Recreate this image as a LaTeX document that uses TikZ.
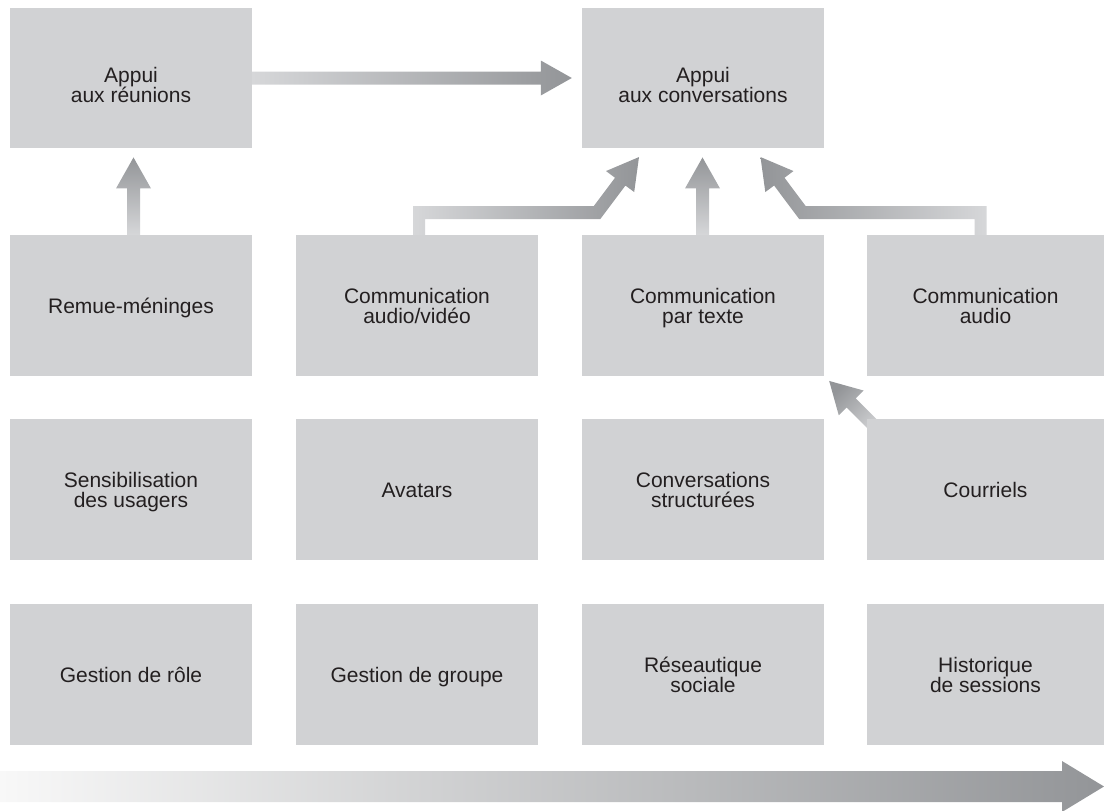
\documentclass[tikz,border=0pt]{standalone}
\usepackage{fontspec}
\setmainfont{Liberation Sans}
\usetikzlibrary{calc,backgrounds}

\definecolor{boxgray}{HTML}{D1D2D4}
\definecolor{arrowdark}{HTML}{939598}
\definecolor{arrowlight}{HTML}{D6D7D9}
\definecolor{axisstart}{HTML}{F8F8F8}
\definecolor{axismid}{HTML}{BDBEC0}
\definecolor{txt}{HTML}{231F20}

% struts that fix where the lines of a card sit
\newcommand\topline{\rule{0pt}{21pt}}
\newcommand\topliner{\rule{0pt}{34pt}}
\newcommand\botline{\rule[-6pt]{0pt}{6pt}}

% upward arrow: #1 = tail, #2 = tip (same x)
\newcommand\riseArrow[2]{%
  \shade[risegrad] ($(#1)+(-6.5,0)$) -- ($(#2)+(-6.5,31)$) -- ($(#2)+(-17.5,31)$)
    -- (#2) -- ($(#2)+(17.5,31)$) -- ($(#2)+(6.5,31)$) -- ($(#1)+(6.5,0)$) -- cycle;}

% bent arrow: up, across, then up at an angle; #1 = tail, #2 = extra options
\newcommand\bentArrow[2]{%
  \shade[shift={(#1)},#2] (-6,0) -- (-6,-29) -- (174.8,-29) -- (196,-57.3)
    -- (187,-64) -- (220,-78) -- (215.2,-43) -- (206.4,-49.5) -- (181.3,-16)
    -- (6,-16) -- (6,0) -- cycle;}

\begin{document}
\begin{tikzpicture}[x=1pt,y=-1pt,
  card/.style={fill=boxgray, minimum width=242pt, minimum height=140.5pt,
    inner sep=0pt, align=center, text=txt,
    font=\fontsize{21}{20}\selectfont},
  lastcol/.style={minimum width=237pt},
  risegrad/.style={top color=arrowdark, bottom color=arrowlight},
  rightgrad/.style={left color=arrowlight, right color=arrowdark},
  leftgrad/.style={left color=arrowdark, right color=arrowlight}]
\useasboundingbox (0,0) rectangle (1104,811);

% row 1
\node[card] (r1c1) at (131,78) {\topliner Appui\\aux réunions\botline};
\node[card] (r1c3) at (703,78) {\topliner Appui\\aux conversations\botline};
% row 2
\node[card] (r2c1) at (131,305.5) {\topline Remue-méninges\botline};
\node[card] (r2c2) at (417,305.5) {\topline Communication\\audio/vidéo\botline};
\node[card] (r2c3) at (703,305.5) {\topline Communication\\par texte\botline};
\node[card,lastcol] (r2c4) at (985.5,305.5) {\topline Communication\\audio\botline};
% row 3
\node[card] (r3c1) at (131,489.5) {\topline Sensibilisation\\des usagers\botline};
\node[card] (r3c2) at (417,489.5) {\topline Avatars\botline};
\node[card] (r3c3) at (703,489.5) {\topline Conversations\\structurées\botline};
\node[card,lastcol] (r3c4) at (985.5,489.5) {\topline Courriels\botline};
% row 4
\node[card] (r4c1) at (131,674.5) {\topline Gestion de rôle\botline};
\node[card] (r4c2) at (417,674.5) {\topline Gestion de groupe\botline};
\node[card] (r4c3) at (703,674.5) {\topline Réseautique\\sociale\botline};
\node[card,lastcol] (r4c4) at (985.5,674.5) {\topline Historique\\de sessions\botline};

\begin{pgfonlayer}{background}
  % meetings -> conversations
  \coordinate (hTail) at (r1c1.east);
  \coordinate (hTip) at ($(r1c3.west)+(-10,0)$);
  \shade[rightgrad] ($(hTail)+(0,-6.5)$) -- ($(hTip)+(-31,-6.5)$) -- ($(hTip)+(-31,-17.5)$)
    -- (hTip) -- ($(hTip)+(-31,17.5)$) -- ($(hTip)+(-31,6.5)$) -- ($(hTail)+(0,6.5)$) -- cycle;

  % brainstorming -> meetings
  \coordinate (v1Tail) at ($(r2c1.north)+(2.5,0)$);
  \coordinate (v1Tip) at ($(v1Tail |- r1c1.south)+(0,9)$);
  \riseArrow{v1Tail}{v1Tip}

  % text communication -> conversations
  \coordinate (v3Tail) at ($(r2c3.north)+(-0.5,0)$);
  \coordinate (v3Tip) at ($(v3Tail |- r1c3.south)+(0,9)$);
  \riseArrow{v3Tail}{v3Tip}

  % audio/video and audio -> conversations
  \coordinate (b2Tail) at ($(r2c2.north)+(2,0)$);
  \coordinate (b4Tail) at ($(r2c4.north)+(-5,0)$);
  \bentArrow{b2Tail}{rightgrad}
  \bentArrow{b4Tail}{xscale=-1,leftgrad}

  % e-mail -> text communication
  \coordinate (dTip) at ($(r2c3.south east)+(5,5)$);
  \shade[shift={(dTip)},rotate=135,top color=arrowdark,bottom color=arrowlight,
    shading angle=45]
    (-75,-6.5) -- (-31,-6.5) -- (-31,-17.5) -- (0,0) -- (-31,17.5)
    -- (-31,6.5) -- (-75,6.5) -- cycle;
\end{pgfonlayer}

% long arrow along the bottom
\coordinate (axisL) at (0,786.5);
\coordinate (axisR) at (1104,786.5);
\shade[left color=axisstart, middle color=axismid, right color=arrowdark]
  ($(axisL)+(0,-15.5)$) -- ($(axisR)+(-42,-15.5)$) -- ($(axisR)+(-42,-25.5)$)
  -- (axisR) -- ($(axisR)+(-42,25.5)$) -- ($(axisR)+(-42,15.5)$)
  -- ($(axisL)+(0,15.5)$) -- cycle;
\end{tikzpicture}
\end{document}
